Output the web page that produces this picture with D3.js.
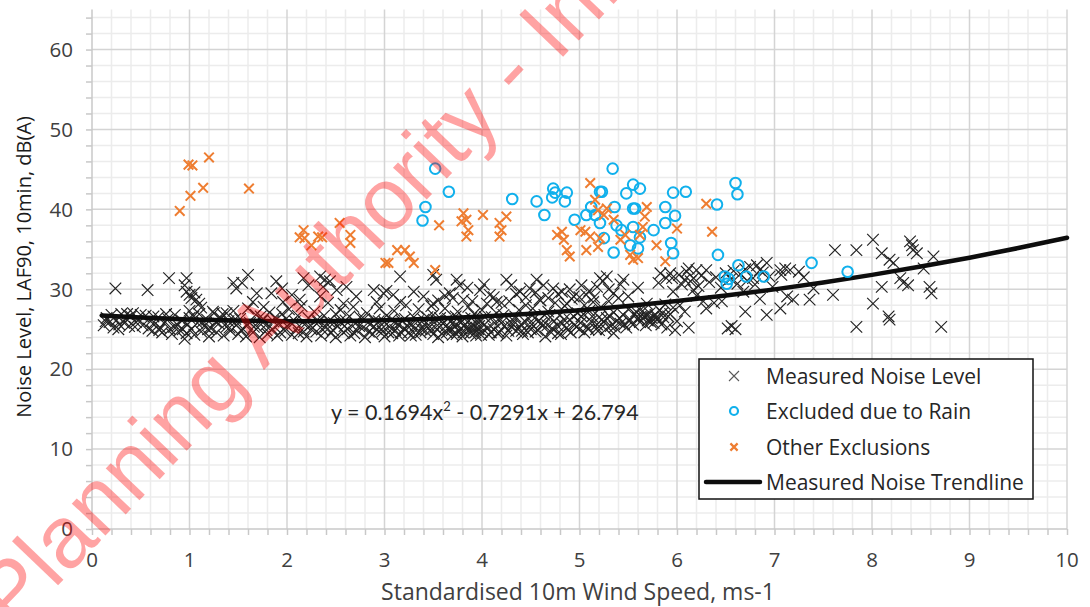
<!DOCTYPE html>
<html><head><meta charset="utf-8">
<script src="https://cdn.jsdelivr.net/npm/d3@7"></script>
<style>html,body{margin:0;padding:0;background:#fff;overflow:hidden}</style>
</head><body><svg id="c" width="1090" height="607"></svg>
<script>
// ---------------- data ----------------
const xTicks = [0,1,2,3,4,5,6,7,8,9,10];
const yTicks = [0,10,20,30,40,50,60];
const xTitle = "Standardised 10m Wind Speed, ms-1";
const yTitle = "Noise Level, LAF90, 10min, dB(A)";
const legendLabels = ["Measured Noise Level","Excluded due to Rain","Other Exclusions","Measured Noise Trendline"];
const equationText = ["y = 0.1694x","2"," - 0.7291x + 26.794"];
const watermark = "Planning Authority - Information Only";

const measured = [
[0.24,30.1],[0.57,29.9],[0.79,31.4],[0.97,31.4],[0.95,30.5],[0.97,29.7],[1.0,29.3],[1.07,28.7],[1.45,30.8],[1.6,31.8],
[1.54,30.8],[1.48,30.1],[1.69,29.5],[1.65,28.4],[1.89,31.0],[1.95,30.1],[1.84,29.5],[2.05,29.3],[2.17,31.4],[2.22,30.5],
[2.34,31.6],[2.39,31.2],[2.44,31.0],[2.37,30.3],[2.51,29.9],[2.61,30.3],[2.13,28.7],[2.34,29.1],[2.71,29.1],[2.89,29.9],
[2.99,29.5],[2.58,28.2],[2.92,28.4],[1.96,28.4],[1.76,27.8],[1.38,27.0],[1.24,27.2],[1.02,28.9],[1.05,29.6],[1.1,28.2],[1.12,27.7],
[3.16,31.6],[3.5,31.8],[3.53,31.2],[3.74,31.2],[3.77,30.5],[4.25,31.2],[4.3,30.5],[4.56,31.2],[4.63,30.5],[4.73,30.1],
[5.02,30.5],[5.21,31.4],[5.24,31.0],[5.28,31.6],[5.45,31.2],[5.83,32.0],[5.89,31.4],[5.81,30.8],[3.02,29.8],[3.09,29.3],
[3.3,29.7],[3.4,29.1],[3.67,29.5],[3.98,29.9],[4.08,29.3],[4.39,29.7],[4.49,30.1],[4.82,29.7],[4.94,29.1],[5.07,29.3],
[5.35,29.5],[5.5,29.1],[5.96,29.7],[3.16,28.4],[3.5,28.2],[3.81,28.7],[4.15,28.4],[4.59,28.7],[4.87,28.2],[5.14,28.4],[5.69,28.2],
[3.55,28.6],[3.62,29.2],[3.7,28.9],[3.85,30.2],[3.9,28.5],[4.02,30.6],[4.12,29.0],[4.2,28.3],[4.35,29.4],[4.45,29.0],
[4.55,29.6],[4.68,28.9],[4.78,29.4],[4.9,30.0],[5.0,29.0],[5.1,29.8],[5.18,30.3],[5.3,30.0],[5.42,30.6],[5.6,30.2],
[6.12,32.6],[6.2,32.4],[6.3,32.4],[6.17,31.4],[6.08,31.2],[5.93,32.0],[5.95,31.4],[6.17,29.9],[6.27,28.5],[6.46,28.5],
[6.68,29.7],[6.75,32.8],[6.82,33.0],[6.85,32.4],[6.92,33.3],[6.78,31.4],[7.06,32.4],[7.11,32.6],[7.16,32.4],[7.07,31.8],
[7.13,29.1],[7.19,28.7],[7.06,27.6],[7.36,28.7],[7.4,30.1],[7.6,29.3],[7.62,34.9],[7.84,34.9],[7.84,25.3],[8.01,36.2],
[8.01,28.2],[8.1,34.5],[8.1,30.3],[8.18,33.7],[8.22,33.3],[8.17,26.6],[8.18,26.2],[8.29,31.4],[8.32,30.8],[8.37,30.5],
[8.39,36.0],[8.41,35.5],[8.42,34.9],[8.46,34.5],[8.59,30.3],[8.61,29.5],[8.53,32.6],[8.63,34.1],[8.71,25.3],[7.25,32.2],[7.3,31.5],
[6.02,31.8],[6.05,30.6],[6.1,32.2],[6.14,31.0],[6.22,30.4],[6.25,31.7],[6.33,30.9],[6.4,31.5],[6.45,30.2],[6.5,32.0],
[6.55,31.3],[6.58,32.3],[6.62,30.7],[6.65,31.9],[6.7,32.5],[6.72,31.1],[6.8,30.6],[6.88,32.1],[6.95,31.6],[6.98,30.3],
[6.03,28.0],[6.08,27.2],[6.12,25.2],[6.2,29.2],[6.3,27.6],[6.38,28.3],[6.52,25.1],[6.56,25.4],[6.6,25.0],[6.7,27.2],[6.85,28.8],[6.92,26.8],
[0.12,25.5],[0.15,26.4],[0.18,25.9],[0.2,26.8],[0.22,25.2],[0.25,26.1],[0.28,25.6],[0.3,26.9],[0.33,25.8],[0.35,26.3],
[0.38,25.4],[0.4,26.6],[0.42,27.0],[0.45,25.9],[0.48,26.2],
[0.52,25.5],[0.55,26.7],[0.58,25.1],[0.6,26.0],[0.62,24.8],[0.65,25.7],[0.68,26.5],[0.7,25.2],[0.72,24.6],[0.75,25.9],
[0.78,26.3],[0.8,25.0],[0.82,24.4],[0.85,26.8],[0.88,25.5],[0.9,24.9],[0.92,26.1],[0.95,23.8],[0.97,24.5],[0.98,25.6],
[1.0,26.4],[1.0,27.3],[1.02,25.0],
[1.05,24.3],[1.08,25.8],[1.1,26.9],[1.12,24.7],[1.15,25.4],[1.18,26.2],[1.2,24.1],[1.22,25.1],[1.25,27.0],[1.28,24.6],
[1.3,25.7],[1.32,26.4],[1.35,24.2],[1.38,25.3],[1.4,26.0],[1.42,24.8],[1.45,27.3],[1.48,25.5],[1.5,24.4],
[1.52,26.3],[1.55,25.0],[1.58,24.1],[1.6,27.6],[1.62,25.8],[1.65,24.6],[1.68,26.8],[1.7,25.2],[1.72,24.0],[1.75,26.1],
[1.78,25.5],[1.8,24.4],[1.82,27.1],[1.85,25.0],[1.88,26.5],[1.9,24.2],[1.92,25.7],[1.95,26.9],[1.98,24.8],[2.0,25.4],
[2.02,27.5],[2.05,24.3],[2.08,26.0],[2.1,25.1],[2.12,24.5],[2.15,27.9],[2.18,25.6],[2.2,24.1],[2.22,26.4],[2.25,25.0],
[2.28,27.2],[2.3,24.7],[2.32,25.9],[2.35,24.2],[2.38,26.7],[2.4,25.3],[2.42,28.3],[2.45,24.5],[2.48,25.8],[2.5,26.9],[2.5,24.0],
[2.52,25.4],[2.55,27.4],[2.58,24.6],[2.6,26.1],[2.62,25.0],[2.65,24.2],[2.68,27.8],[2.7,25.7],[2.72,24.8],[2.75,26.5],
[2.78,25.2],[2.8,24.0],[2.82,27.0],[2.85,25.6],[2.88,24.4],[2.9,26.2],[2.92,25.0],[2.95,27.6],[2.98,24.7],[3.0,25.9],[3.0,24.1],
[3.02,26.7],[3.05,25.3],[3.08,24.5],[3.1,27.3],[3.12,25.8],[3.15,24.2],[3.18,26.0],[3.2,25.1],[3.22,28.0],[3.25,24.6],
[3.28,25.6],[3.3,26.5],[3.32,24.3],[3.35,27.5],[3.38,25.0],[3.4,26.2],[3.42,24.8],[3.45,25.5],[3.48,27.9],[3.5,24.4],[3.5,26.8],
[3.52,25.2],[3.55,24.0],[3.57,26.4],[3.6,25.7],[3.62,27.6],[3.64,24.6],[3.66,25.0],[3.68,26.0],[3.7,24.3],[3.72,25.4],
[3.73,26.6],[3.75,27.2],[3.76,24.8],[3.78,25.8],[3.8,24.1],[3.82,26.3],[3.84,25.2],[3.86,27.8],[3.88,24.5],[3.9,25.6],
[3.92,26.9],[3.94,24.2],[3.96,25.0],[3.98,26.1],[4.0,27.4],[4.0,24.7],
[4.02,25.5],[4.05,28.2],[4.07,24.3],[4.1,26.5],[4.12,25.0],[4.15,27.0],[4.18,24.6],[4.2,25.8],[4.22,26.8],[4.25,24.2],
[4.28,28.5],[4.3,25.3],[4.32,26.1],[4.35,24.8],[4.38,27.4],[4.4,25.6],[4.42,24.4],[4.45,28.0],[4.48,26.3],[4.5,25.0],
[4.52,27.6],[4.55,24.7],[4.58,26.0],[4.6,28.6],[4.62,25.4],[4.65,24.1],[4.68,27.2],[4.7,26.5],[4.72,25.1],[4.75,28.3],
[4.78,24.5],[4.8,26.8],[4.82,25.7],[4.85,27.9],[4.88,24.9],[4.9,26.2],[4.92,28.8],[4.95,25.5],[4.98,27.0],[5.0,25.0],
[5.02,26.6],[5.05,28.0],[5.08,25.3],[5.1,27.3],[5.12,26.0],[5.15,29.0],[5.18,25.6],[5.2,26.5],[5.22,27.8],[5.25,25.9],
[5.28,26.4],[5.3,28.5],[5.32,25.4],[5.35,27.1],[5.38,26.0],[5.4,28.9],[5.42,25.7],[5.45,26.8],[5.48,25.2],[5.5,27.5],
[5.05,24.6],[5.2,24.9],[5.35,24.5],
[5.52,26.2],[5.55,25.6],[5.57,26.9],[5.6,26.4],[5.62,25.9],[5.64,27.2],[5.66,26.6],[5.68,25.5],[5.7,26.1],[5.72,27.0],
[5.74,26.4],[5.76,25.8],[5.78,26.8],[5.8,26.2],[5.82,27.4],[5.84,25.6],[5.86,26.5],[5.88,28.1],[5.9,25.2],[5.93,26.9],
[5.96,27.7],[5.98,24.9],[6.0,26.0],
[0.14,26.0],[0.27,25.0],[0.36,26.9],[0.44,25.3],[0.5,26.8],[0.63,26.6],[0.69,24.9],[0.76,26.9],[0.84,25.3],[0.93,25.0],
[1.04,26.6],[1.13,25.9],[1.19,25.0],[1.27,25.9],[1.34,26.9],[1.41,25.2],[1.47,26.3],[1.53,24.9],[1.59,25.6],[1.66,25.3],
[1.73,26.6],[1.79,24.9],[1.86,26.0],[1.93,24.6],[1.99,26.3],[2.04,25.8],[2.11,26.7],[2.17,24.7],[2.24,25.5],[2.31,26.2],
[2.36,25.0],[2.43,26.0],[2.47,24.9],[2.54,26.0],[2.59,25.4],[2.64,26.6],[2.69,24.5],[2.74,25.4],[2.79,26.3],[2.84,24.7],
[2.89,25.3],[2.94,26.0],[2.97,25.0],[3.04,24.6],[3.07,26.2],[3.11,24.9],[3.14,25.6],[3.17,24.6],[3.21,26.3],[3.24,25.4],
[3.27,24.2],[3.31,25.0],[3.34,26.0],[3.37,24.6],[3.41,25.6],[3.44,26.5],[3.47,24.9],[3.53,26.1],[3.56,25.3],[3.59,24.4],
[3.63,25.4],[3.65,26.3],[3.69,24.9],[3.71,25.9],[3.74,24.4],[3.77,26.0],[3.79,25.1],[3.81,24.6],[3.83,25.6],[3.87,24.9],
[3.89,26.4],[3.91,25.1],[3.93,24.6],[3.95,26.0],[3.97,25.4],[3.99,24.3],[4.03,26.5],[4.06,25.2],[4.09,24.6],[4.13,25.8],
[4.16,24.5],[4.19,26.2],[4.23,25.4],[4.27,24.8],[4.31,25.7],[4.34,26.6],[4.37,25.0],[4.41,24.8],[4.44,26.0],[4.47,24.6],
[4.51,25.6],[4.54,26.4],[4.57,24.9],[4.61,25.8],[4.64,26.8],[4.67,25.5],[4.71,24.6],[4.74,26.0],[4.77,25.5],[4.81,24.4],
[4.84,26.2],[4.87,25.2],[4.91,24.6],[4.94,26.6],[4.97,25.3],[5.01,25.8],[5.04,26.9],[5.09,25.0],[5.13,26.6],[5.17,25.0],
[5.23,26.2],[5.27,25.0],[5.31,26.6],[5.36,25.3],[5.41,26.4],[5.46,25.6],[5.51,26.0],[5.58,27.2],[5.63,26.6],[5.69,26.8],
[5.73,25.9],[5.79,26.5],[5.85,27.0],[5.91,26.6]
];

const rain = [
[3.52,45.1],[3.66,42.2],[3.42,40.3],[3.39,38.6],[4.31,41.3],[4.56,41.0],[4.64,39.3],[4.73,42.6],[4.75,42.1],[4.72,41.5],
[4.87,42.1],[4.85,41.0],[4.95,38.7],[5.07,39.3],[5.12,40.3],[5.21,42.2],[5.23,42.2],[5.16,39.3],[5.21,38.3],[5.25,36.4],
[5.34,45.1],[5.36,40.3],[5.38,38.0],[5.43,37.4],[5.48,42.0],[5.55,43.1],[5.62,42.6],[5.55,40.1],[5.57,40.1],[5.55,37.8],
[5.52,35.5],[5.60,35.1],[5.35,34.6],[5.62,36.5],[5.76,37.4],[5.88,40.3],[5.88,38.3],[5.96,42.1],[6.09,42.2],[5.98,39.2],
[5.94,35.8],[5.96,34.5],[6.42,34.3],[6.63,33.0],[6.49,31.6],[6.53,31.3],[6.51,30.7],[6.71,31.6],[6.89,31.6],[7.38,33.3],
[7.75,32.2],[6.41,40.6],[6.6,43.3],[6.62,41.9]
];

const other = [
[0.9,39.8],[0.99,45.6],[1.03,45.5],[1.01,41.7],[1.14,42.7],[1.2,46.5],[1.61,42.6],[2.13,36.5],[2.17,37.4],[2.18,36.4],
[2.25,35.5],[2.32,36.6],[2.36,36.5],[2.54,38.3],[2.65,36.8],[2.65,35.8],[3.01,33.3],[3.04,33.3],[3.13,34.9],
[3.56,38.0],[3.81,39.5],[3.79,38.5],[3.84,38.7],[3.86,37.4],[3.84,36.6],[4.01,39.3],[4.18,38.3],[4.2,37.4],[4.25,39.1],
[4.18,36.6],[3.26,34.1],[3.3,33.3],[3.21,34.9],[3.52,32.4],[4.77,36.8],[4.82,37.2],[4.84,36.2],[4.87,34.9],[4.9,34.1],
[5.01,37.4],[5.06,37.2],[5.11,43.3],[5.16,41.2],[5.19,39.9],[5.07,34.9],[5.19,35.3],[5.11,36.6],[5.21,36.4],[5.35,38.7],
[5.42,36.2],[5.52,34.3],[5.55,33.7],[5.6,33.9],[5.62,36.8],[5.65,37.8],[5.67,39.1],[5.69,40.3],[5.79,35.5],[5.88,33.5],
[6.0,37.6],[5.28,40.1],[5.25,39.3],[5.47,36.8],[6.36,37.2],[6.3,40.7]
];

const trendX = [0.1,0.5,1,1.5,2,2.5,3,3.5,4,4.5,5,5.5,6,6.5,7,7.5,8,8.5,9,9.5,10];
const trendY = [26.72,26.47,26.23,26.08,26.01,26.03,26.13,26.32,26.59,26.94,27.38,27.91,28.52,29.21,29.99,30.86,31.80,32.84,33.95,35.16,36.44];

// ---------------- layout ----------------
const svg = d3.select("#c");
const x = d3.scaleLinear().domain([0,10]).range([92,1067]);
const y = d3.scaleLinear().domain([0,65]).range([529,9.6]);
const FONT = "'Open Sans', 'DejaVu Sans', sans-serif";

// minor grid
const gMinor = svg.append("g");
gMinor.selectAll("line.vx").data(d3.range(0,50).map(i=>i*0.2).filter(v=>Math.abs(v-Math.round(v))>1e-6))
  .join("line").attr("x1",d=>x(d)).attr("x2",d=>x(d)).attr("y1",y(0)).attr("y2",y(65))
  .attr("stroke","#ececec").attr("stroke-width",1.5);
gMinor.selectAll("line.hy").data(d3.range(1,33).map(i=>i*2).filter(v=>v%10!==0))
  .join("line").attr("x1",x(0)).attr("x2",x(10)).attr("y1",d=>y(d)).attr("y2",d=>y(d))
  .attr("stroke","#ececec").attr("stroke-width",1.5);
// major grid
const gMajor = svg.append("g");
gMajor.selectAll("line.mx").data(xTicks.slice(1)).join("line")
  .attr("x1",d=>x(d)).attr("x2",d=>x(d)).attr("y1",y(0)).attr("y2",y(65))
  .attr("stroke","#d4d4d4").attr("stroke-width",1.5);
gMajor.selectAll("line.my").data(yTicks.slice(1)).join("line")
  .attr("x1",x(0)).attr("x2",x(10)).attr("y1",d=>y(d)).attr("y2",d=>y(d))
  .attr("stroke","#d4d4d4").attr("stroke-width",1.5);

// axes
const xAxis = d3.axisBottom(x).tickValues(d3.range(0,51).map(i=>i*0.2)).tickSize(6).tickFormat("");
const yAxis = d3.axisLeft(y).tickValues(d3.range(0,33).map(i=>i*2)).tickSize(6).tickFormat("");
const gx = svg.append("g").attr("transform",`translate(0,${y(0)})`).call(xAxis);
const gy = svg.append("g").attr("transform",`translate(${x(0)},0)`).call(yAxis);
[gx,gy].forEach(g=>{g.select(".domain").remove(); g.selectAll("line").attr("stroke","#c8c8c8").attr("stroke-width",1.5);});
svg.append("line").attr("x1",x(0)).attr("x2",x(0)).attr("y1",y(0)+0.5).attr("y2",y(65)).attr("stroke","#c8c8c8").attr("stroke-width",1.5);
svg.append("line").attr("x1",x(0)).attr("x2",x(10)).attr("y1",y(0)).attr("y2",y(0)).attr("stroke","#c8c8c8").attr("stroke-width",1.5);

// tick labels
svg.append("g").selectAll("text").data(xTicks).join("text")
  .attr("x",d=>x(d)).attr("y",y(0)+38).attr("text-anchor","middle")
  .style("font-family",FONT).style("font-size","20.5px").attr("fill","#404040").text(d=>d);
svg.append("g").selectAll("text").data(yTicks).join("text")
  .attr("x",x(0)-19).attr("y",d=>y(d)+7.3).attr("text-anchor","end")
  .style("font-family",FONT).style("font-size","20.5px").attr("fill","#404040").text(d=>d);

// titles
svg.append("text").attr("x",578).attr("y",600).attr("text-anchor","middle")
  .style("font-family",FONT).style("font-size","23px").attr("fill","#404040").text(xTitle);
svg.append("text").attr("transform","translate(31,267) rotate(-90)").attr("text-anchor","middle")
  .style("font-family",FONT).style("font-size","20px").attr("fill","#1a1a1a").text(yTitle);

// markers
const X = s => `M${-s},${-s}L${s},${s}M${-s},${s}L${s},${-s}`;
svg.append("g").selectAll("path").data(measured).join("path")
  .attr("d",X(5.8)).attr("transform",d=>`translate(${x(d[0])},${y(d[1])})`)
  .attr("fill","none").attr("stroke","#222").attr("stroke-width",1.15);

// trendline
const trend = trendX.map((v,i)=>[v,trendY[i]]);
svg.append("path").datum(trend)
  .attr("d",d3.line().x(d=>x(d[0])).y(d=>y(d[1])).curve(d3.curveMonotoneX))
  .attr("fill","none").attr("stroke","#0d0d0d").attr("stroke-width",4.5).attr("stroke-linecap","round");

svg.append("g").selectAll("circle").data(rain).join("circle")
  .attr("cx",d=>x(d[0])).attr("cy",d=>y(d[1])).attr("r",5.3)
  .attr("fill","none").attr("stroke","#10b0ec").attr("stroke-width",2);
svg.append("g").selectAll("path").data(other).join("path")
  .attr("d",X(4.8)).attr("transform",d=>`translate(${x(d[0])},${y(d[1])})`)
  .attr("fill","none").attr("stroke","#ee7d31").attr("stroke-width",2);

// equation
const eq = svg.append("text").attr("x",331).attr("y",420)
  .style("font-family","Lato, 'Open Sans', sans-serif").style("font-size","21.5px").attr("fill","#262626");
eq.append("tspan").text(equationText[0]);
eq.append("tspan").attr("dy",-9).style("font-size","13px").text(equationText[1]);
eq.append("tspan").attr("dy",9).text(equationText[2]);

// legend
const lg = svg.append("g");
lg.append("rect").attr("x",699).attr("y",359).attr("width",334).attr("height",140)
  .attr("fill","#fff").attr("stroke","#111").attr("stroke-width",1.5);
const rowY = [376,411,447,482];
lg.selectAll("text").data(legendLabels).join("text")
  .attr("x",766).attr("y",(d,i)=>rowY[i]+7.5)
  .style("font-family",FONT).style("font-size","21px").attr("fill","#262626").text(d=>d);
lg.append("path").attr("d",X(5)).attr("transform",`translate(734,${rowY[0]})`).attr("stroke","#595959").attr("stroke-width",1.1).attr("fill","none");
lg.append("circle").attr("cx",734).attr("cy",rowY[1]).attr("r",4).attr("fill","none").attr("stroke","#10b0ec").attr("stroke-width",2.2);
lg.append("path").attr("d",X(3.6)).attr("transform",`translate(734,${rowY[2]})`).attr("stroke","#ee7d31").attr("stroke-width",2.2).attr("fill","none");
lg.append("line").attr("x1",706).attr("x2",760).attr("y1",rowY[3]).attr("y2",rowY[3]).attr("stroke","#0d0d0d").attr("stroke-width",4.5).attr("stroke-linecap","round");

// watermark
svg.append("text").attr("transform","translate(13.5,632) rotate(-46.3)")
  .style("font-family","'Liberation Sans', Arial, sans-serif").style("font-size","88px")
  .attr("fill","rgba(255,0,0,0.36)").text(watermark);
</script></body></html>
